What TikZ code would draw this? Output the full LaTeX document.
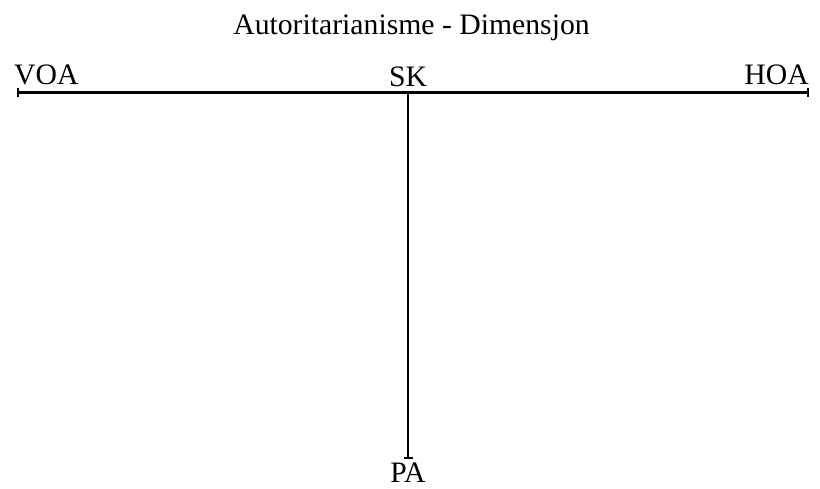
\documentclass[tikz,border=0pt]{standalone}
\usepackage{fontspec}
\setmainfont{Liberation Serif}
\usetikzlibrary{positioning, arrows.meta}

\begin{document}
\begin{tikzpicture}[x=1pt, y=-1pt, font=\fontsize{29.7}{35}\selectfont,
  lbl/.style={inner sep=0pt, anchor=base},
  axis/.style={line width=2.6pt, {Bar[width=9pt,line width=1.6pt]}-{Bar[width=9pt,line width=1.6pt]}, shorten <=-1pt, shorten >=-1pt}]
\useasboundingbox (0,0) rectangle (820,488);
\node[lbl] (title) at (411.5,34.5) {Autoritarianisme - Dimensjon};
% ends of the axes
\coordinate (voa) at (18,92.5);
\coordinate (hoa) at (808,92.5);
\coordinate (sk) at (408,92.5);
\coordinate (pa) at (408,459);
\node[lbl, anchor=base west] (voal) at (14,84) {VOA};
\node[lbl, anchor=base east] (hoal) at (809,84) {HOA};
\node[lbl] (skl) at (408,86) {SK};
\node[lbl] (pal) at (408,482) {PA};
\draw[axis] (voa) -- (hoa);
\draw[line width=2.6pt, -{Bar[width=9pt,line width=1.6pt]}] (sk) -- (pa);
\end{tikzpicture}
\end{document}
